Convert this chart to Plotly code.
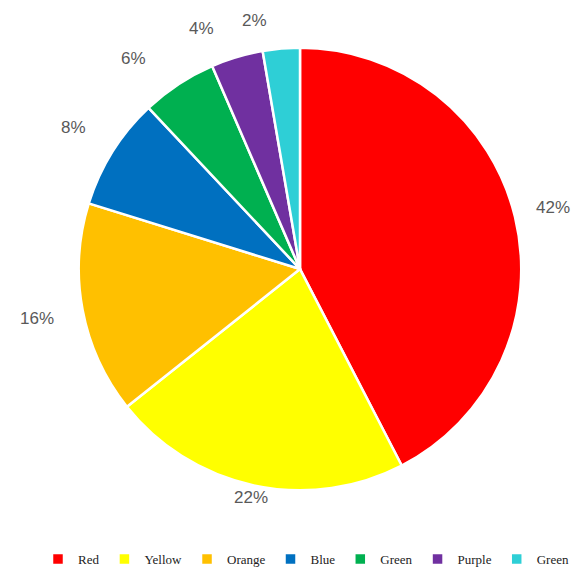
import math
import plotly.graph_objects as go

labels = ["Red", "Yellow", "Orange", "Blue", "Green", "Purple", "Green "]
values = [42.4, 21.9, 15.5, 8.2, 5.5, 3.8, 2.7]
pct_text = ["42%", "22%", "16%", "8%", "6%", "4%", "2%"]
colors = ["#FF0000", "#FFFF00", "#FFC000", "#0070C0", "#00B050", "#7030A0", "#2ECFD6"]

W, H = 577, 574
cx, cy, R = 300, 270, 222
# label placement (style): distance from centre and angular nudge, per slice
label_r = [260, 234, 268, 267, 269, 261, 254]
label_nudge = [0, 0, 0, 0, -5, -5.5, -5.5]

fig = go.Figure(go.Pie(
    labels=labels,
    values=values,
    sort=False,
    direction="clockwise",
    rotation=0,
    marker=dict(colors=colors, line=dict(color="white", width=2.5)),
    textinfo="none",
    hoverinfo="label+percent",
    domain=dict(x=[(cx - R) / W, (cx + R) / W], y=[1 - (cy + R) / H, 1 - (cy - R) / H]),
))

total = sum(values)
cum = 0
annotations = []
for i, v in enumerate(values):
    mid = math.radians((cum + v / 2) / total * 360 + label_nudge[i])
    cum += v
    px = cx + label_r[i] * math.sin(mid)
    py = cy - label_r[i] * math.cos(mid)
    annotations.append(dict(
        x=px / W, y=1 - py / H, xref="paper", yref="paper",
        text=pct_text[i], showarrow=False,
        font=dict(family="Liberation Sans", size=17, color="#595959"),
        xanchor="center", yanchor="middle",
    ))

fig.update_layout(
    width=W, height=H,
    margin=dict(l=0, r=0, t=0, b=0),
    paper_bgcolor="white",
    plot_bgcolor="white",
    annotations=annotations,
    showlegend=True,
    legend=dict(
        orientation="h",
        x=0.54, xanchor="center",
        y=1 - 561 / H, yanchor="middle",
        font=dict(family="Liberation Serif", size=13, color="#222222"),
        itemwidth=30,
        tracegroupgap=0,
    ),
)

fig.write_html("out.html")
